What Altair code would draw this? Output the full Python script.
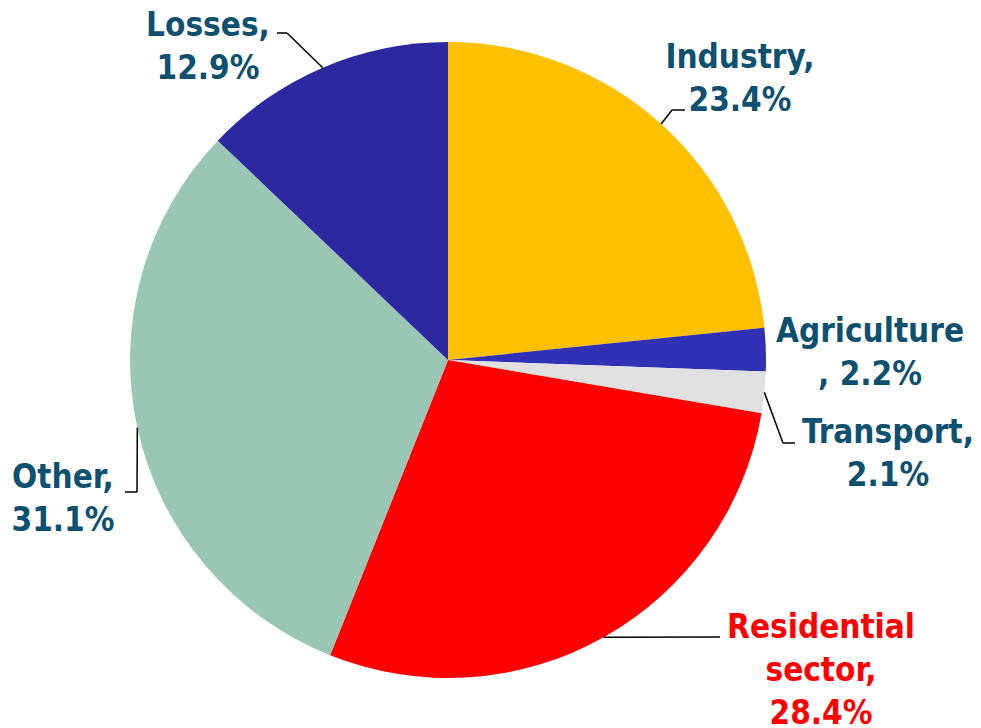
import math
import altair as alt
import pandas as pd

# ---- data ----
categories = ["Industry", "Agriculture", "Transport", "Residential sector", "Other", "Losses"]
shares = [23.4, 2.2, 2.1, 28.4, 31.1, 12.9]
label_texts = ["Industry,\n23.4%", "Agriculture\n, 2.2%", "Transport,\n2.1%",
               "Residential\nsector,\n28.4%", "Other,\n31.1%", "Losses,\n12.9%"]
colors = ["#FFC000", "#3131B5", "#E0E0E0", "#FF0000", "#9AC7B3", "#2B28A0"]
label_colors = ["#0E5070", "#0E5070", "#0E5070", "#FF0000", "#0E5070", "#0E5070"]

# ---- layout (pixels in plot coordinates) ----
W, H = 965, 720
CX, CY, R = 440, 352, 318
label_pos = [(732, 60), (862, 334), (880, 435), (813, 630), (55, 480), (200, 28)]
# leader elbow/end points (None = no leader)
leader_mid = [(664, 102), None, (775, 435), None, (129, 484), (279, 25)]
leader_end = [(677, 102), None, (787, 435), (712, 629), (117, 484), (269, 25)]

df = pd.DataFrame({
    "category": categories,
    "share": shares,
    "order": list(range(len(categories))),
    "color": colors,
})

# leader segments computed from slice mid-angles
total = sum(shares)
segs = []
cum = 0.0
for i, v in enumerate(shares):
    mid = (cum + v / 2) / total * 2 * math.pi
    cum += v
    if leader_end[i] is None:
        continue
    sx, sy = CX + R * math.sin(mid), CY - R * math.cos(mid)
    pts = [(sx, sy)]
    if leader_mid[i] is not None:
        pts.append(leader_mid[i])
    pts.append(leader_end[i])
    for a, b in zip(pts[:-1], pts[1:]):
        segs.append({"x": a[0], "y": a[1], "x2": b[0], "y2": b[1]})
seg_df = pd.DataFrame(segs)

lab_df = pd.DataFrame({
    "text": label_texts,
    "x": [p[0] for p in label_pos],
    "y": [p[1] for p in label_pos],
    "color": label_colors,
})

pie = alt.Chart(df).mark_arc(radius=R).encode(
    theta=alt.Theta("share:Q", stack=True),
    order=alt.Order("order:Q"),
    color=alt.Color("color:N", scale=None),
    x=alt.value(CX),
    y=alt.value(CY),
)

leaders = alt.Chart(seg_df).mark_rule(color="black", strokeWidth=1.5).encode(
    x=alt.X("x:Q", scale=None),
    y=alt.Y("y:Q", scale=None),
    x2="x2:Q",
    y2="y2:Q",
)

labels = alt.Chart(lab_df).mark_text(
    font="DejaVu Sans Condensed, DejaVu Sans",
    fontWeight="bold",
    fontSize=33,
    align="center",
    baseline="alphabetic",
    lineBreak="\n",
    lineHeight=43,
).encode(
    x=alt.X("x:Q", scale=None),
    y=alt.Y("y:Q", scale=None),
    text="text:N",
    color=alt.Color("color:N", scale=None),
)

chart = alt.layer(pie, leaders, labels).properties(
    width=W, height=H, padding=0,
    autosize=alt.AutoSizeParams(type="none"),
).configure_view(stroke=None)

chart.save("out.html", embed_options={"renderer": "svg", "actions": False})
